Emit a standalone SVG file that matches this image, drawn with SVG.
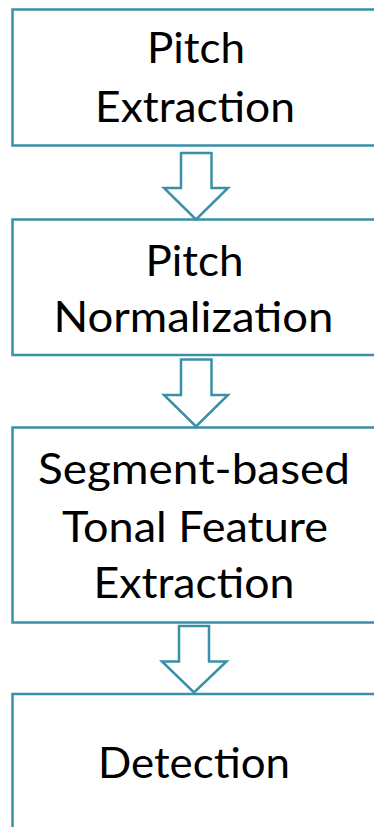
<svg xmlns="http://www.w3.org/2000/svg" width="374" height="827" viewBox="0 0 374 827">
<style>
.box{fill:#fff;stroke:#3A90A6;stroke-width:2.5}
.arr{fill:#fff;stroke:#3A90A6;stroke-width:2.5;stroke-linejoin:miter}
text{font-family:Lato,"Open Sans","Liberation Sans",sans-serif;font-size:42px;fill:#000;text-anchor:middle}
</style>
<rect width="374" height="827" fill="#fff"/>
<g id="n1">
<rect class="box" x="12.5" y="9.5" width="380" height="136"/>
<text x="196" y="63" textLength="98" lengthAdjust="spacingAndGlyphs">Pitch</text>
<text x="195" y="122" textLength="200" lengthAdjust="spacingAndGlyphs">Extraction</text>
</g>
<g id="n2">
<rect class="box" x="12.5" y="219.5" width="380" height="135.5"/>
<text x="194.5" y="275.5" textLength="98" lengthAdjust="spacingAndGlyphs">Pitch</text>
<text x="193.5" y="332" textLength="280" lengthAdjust="spacingAndGlyphs">Normalization</text>
</g>
<g id="n3">
<rect class="box" x="12.5" y="427.5" width="380" height="195"/>
<text x="194" y="484" textLength="312" lengthAdjust="spacingAndGlyphs">Segment-based</text>
<text x="195" y="541.5" textLength="266" lengthAdjust="spacingAndGlyphs">Tonal Feature</text>
<text x="194" y="598" textLength="201" lengthAdjust="spacingAndGlyphs">Extraction</text>
</g>
<g id="n4">
<rect class="box" x="12.5" y="694" width="380" height="200"/>
<text x="194" y="778" textLength="192" lengthAdjust="spacingAndGlyphs">Detection</text>
</g>
<g id="connectors">
<polygon class="arr" points="181,153 211.5,153 211.5,188 228,188 196,219.5 164,188 181,188"/>
<polygon class="arr" points="181,359.5 211.5,359.5 211.5,395 228,395 196,426.5 164,395 181,395"/>
<polygon class="arr" points="179,626 209,626 209,661.5 226.5,661.5 194,692.5 162,661.5 179,661.5"/>
</g>
</svg>
